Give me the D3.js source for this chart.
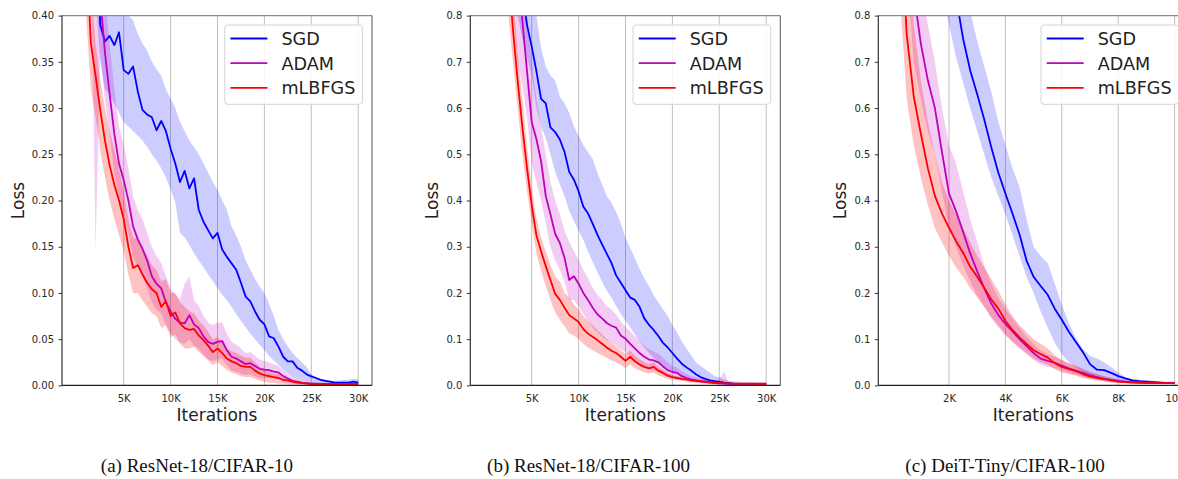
<!DOCTYPE html>
<html><head><meta charset="utf-8">
<script src="https://cdn.jsdelivr.net/npm/d3@7"></script>
<style>body{margin:0;background:#fff} svg{display:block}</style>
</head><body>
<svg id="chart" width="1178" height="479"></svg>
<script>
// ---------------- DATA ----------------
const itersAB = [0,500,1000,1500,2000,2500,3000,3500,4000,4500,
  5000,5500,6000,6500,7000,7500,8000,8500,9000,9500,
  10000,10500,11000,11500,12000,12500,13000,13500,14000,14500,
  15000,15500,16000,16500,17000,17500,18000,18500,19000,19500,
  20000,20500,21000,21500,22000,22500,23000,23500,24000,24500,
  25000,25500,26000,26500,27000,27500,28000,28500,29000,29500,30000];
const itersC = [0,250,500,750,1000,1250,1500,1750,
  2000,2250,2500,2750,3000,3250,3500,3750,
  4000,4250,4500,4750,5000,5250,5500,5750,
  6000,6250,6500,6750,7000,7250,7500,7750,
  8000,8250,8500,8750,9000,9250,9500,9750,10000];

const seriesNames = ["SGD", "ADAM", "mLBFGS"];

// (a) ResNet-18/CIFAR-10
const sgdA = [2.3,1.5,0.95,0.68,0.5,0.39,0.372,0.378,0.368,0.382,
  0.341,0.337,0.345,0.318,0.298,0.293,0.29,0.276,0.286,0.275,
  0.256,0.24,0.22,0.232,0.213,0.224,0.19,0.177,0.168,0.159,
  0.165,0.147,0.139,0.132,0.125,0.111,0.096,0.091,0.08,0.071,
  0.066,0.053,0.051,0.042,0.031,0.026,0.026,0.019,0.016,0.012,
  0.0097,0.008,0.006,0.005,0.004,0.003,0.003,0.003,0.003,0.004,0.003];
const sgdALo = [2.0,1.3,0.8,0.55,0.42,0.35,0.32,0.315,0.305,0.295,
  0.285,0.28,0.275,0.27,0.265,0.258,0.25,0.243,0.235,0.225,
  0.212,0.198,0.165,0.16,0.152,0.143,0.135,0.128,0.12,0.113,
  0.105,0.098,0.092,0.085,0.077,0.07,0.063,0.056,0.05,0.044,
  0.038,0.032,0.027,0.022,0.017,0.013,0.009,0.007,0.005,0.004,
  0.003,0.002,0.002,0.001,0.001,0.001,0.001,0.001,0.001,0.001,0.001];
const sgdAHi = [2.6,1.8,1.1,0.8,0.62,0.5,0.47,0.45,0.43,0.425,
  0.41,0.4,0.395,0.38,0.37,0.362,0.35,0.342,0.335,0.32,
  0.31,0.3,0.285,0.275,0.265,0.258,0.25,0.24,0.23,0.22,
  0.212,0.2,0.19,0.172,0.162,0.15,0.135,0.125,0.115,0.107,
  0.1,0.088,0.075,0.06,0.05,0.042,0.035,0.03,0.025,0.02,
  0.012,0.009,0.007,0.006,0.005,0.005,0.005,0.006,0.006,0.007,0.007];
const adamA = [2.0,1.4,0.9,0.65,0.5,0.42,0.36,0.315,0.272,0.24,
  0.222,0.2,0.172,0.158,0.148,0.135,0.118,0.11,0.105,0.09,
  0.08,0.072,0.068,0.067,0.076,0.066,0.062,0.053,0.047,0.045,
  0.047,0.048,0.038,0.031,0.029,0.026,0.023,0.024,0.021,0.018,
  0.017,0.0165,0.015,0.014,0.01,0.0075,0.005,0.004,0.003,0.0025,
  0.002,0.002,0.0015,0.0015,0.0015,0.0015,0.0015,0.0015,0.0015,0.0015,0.0015];
const adamALo = [1.6,1.1,0.7,0.5,0.145,0.36,0.31,0.27,0.23,0.2,
  0.185,0.165,0.14,0.128,0.118,0.105,0.09,0.082,0.078,0.065,
  0.057,0.05,0.046,0.045,0.05,0.043,0.04,0.033,0.028,0.026,
  0.028,0.029,0.022,0.016,0.015,0.013,0.011,0.012,0.01,0.008,
  0.008,0.008,0.007,0.007,0.004,0.003,0.002,0.001,0.001,0.001,
  0.001,0.001,0.001,0.001,0.001,0.001,0.001,0.001,0.001,0.001,0.001];
const adamAHi = [2.4,1.7,1.1,0.8,0.6,0.5,0.42,0.37,0.32,0.28,
  0.26,0.235,0.205,0.19,0.18,0.165,0.15,0.14,0.132,0.118,
  0.105,0.098,0.093,0.11,0.118,0.092,0.086,0.075,0.068,0.065,
  0.068,0.068,0.056,0.047,0.044,0.04,0.035,0.036,0.032,0.028,
  0.026,0.025,0.023,0.021,0.016,0.012,0.009,0.007,0.005,0.004,
  0.0035,0.003,0.003,0.003,0.003,0.003,0.003,0.003,0.003,0.003,0.003];
const lbfgsA = [1.5,0.9,0.48,0.37,0.335,0.298,0.265,0.238,0.217,0.2,
  0.18,0.15,0.127,0.13,0.12,0.111,0.104,0.1,0.085,0.091,
  0.075,0.079,0.067,0.062,0.06,0.061,0.054,0.049,0.043,0.036,
  0.04,0.035,0.029,0.026,0.024,0.021,0.02,0.02,0.016,0.013,
  0.011,0.01,0.009,0.008,0.006,0.0055,0.004,0.003,0.0025,0.002,
  0.0015,0.001,0.001,0.001,0.001,0.001,0.001,0.001,0.001,0.001,0.001];
const lbfgsALo = [1.2,0.7,0.4,0.32,0.29,0.255,0.225,0.2,0.18,0.163,
  0.145,0.12,0.1,0.1,0.092,0.085,0.078,0.075,0.062,0.065,
  0.052,0.055,0.045,0.04,0.04,0.042,0.036,0.032,0.027,0.022,
  0.025,0.021,0.017,0.014,0.012,0.01,0.009,0.009,0.007,0.005,
  0.004,0.003,0.003,0.002,0.002,0.001,0.001,0.001,0.001,0.001,
  0.0005,0.0005,0.0005,0.0005,0.0005,0.0005,0.0005,0.0005,0.0005,0.0005,0.0005];
const lbfgsAHi = [1.8,1.1,0.58,0.43,0.37,0.33,0.3,0.275,0.255,0.235,
  0.21,0.18,0.16,0.158,0.148,0.14,0.13,0.125,0.112,0.115,
  0.1,0.1,0.09,0.085,0.08,0.078,0.07,0.065,0.058,0.05,
  0.052,0.047,0.04,0.037,0.035,0.032,0.03,0.03,0.025,0.02,
  0.017,0.015,0.013,0.012,0.009,0.008,0.006,0.005,0.004,0.0035,
  0.003,0.002,0.002,0.002,0.002,0.002,0.002,0.002,0.002,0.002,0.002];

// (b) ResNet-18/CIFAR-100
const sgdB = [3.0,2.5,2.0,1.65,1.4,1.2,1.05,0.95,0.85,0.78,
  0.733,0.68,0.62,0.61,0.558,0.548,0.532,0.505,0.462,0.445,
  0.42,0.387,0.372,0.35,0.326,0.305,0.285,0.265,0.238,0.222,
  0.206,0.19,0.185,0.17,0.145,0.131,0.12,0.107,0.092,0.082,
  0.07,0.058,0.047,0.039,0.032,0.024,0.018,0.014,0.011,0.009,
  0.0075,0.006,0.005,0.004,0.0035,0.003,0.0025,0.0025,0.0025,0.0025,0.0025];
const sgdBLo = [2.6,2.1,1.7,1.35,1.15,0.98,0.88,0.8,0.75,0.71,
  0.67,0.6,0.56,0.535,0.5,0.462,0.435,0.41,0.378,0.355,
  0.335,0.315,0.29,0.267,0.245,0.225,0.205,0.19,0.172,0.155,
  0.14,0.126,0.11,0.095,0.082,0.07,0.06,0.05,0.042,0.036,
  0.03,0.025,0.02,0.015,0.011,0.009,0.007,0.006,0.005,0.004,
  0.003,0.002,0.002,0.001,0.001,0.001,0.001,0.001,0.001,0.001,0.001];
const sgdBHi = [3.4,2.9,2.4,2.0,1.7,1.45,1.3,1.15,1.0,0.95,
  0.88,0.8,0.73,0.69,0.67,0.66,0.625,0.61,0.59,0.56,
  0.54,0.52,0.505,0.49,0.46,0.435,0.41,0.395,0.375,0.35,
  0.32,0.298,0.275,0.252,0.232,0.215,0.195,0.18,0.165,0.15,
  0.13,0.115,0.095,0.08,0.065,0.05,0.042,0.035,0.028,0.02,
  0.018,0.012,0.01,0.009,0.008,0.007,0.007,0.007,0.006,0.006,0.006];
const adamB = [3.0,2.4,2.0,1.6,1.35,1.15,1.0,0.9,0.79,0.68,
  0.57,0.533,0.485,0.41,0.37,0.328,0.308,0.276,0.228,0.236,
  0.22,0.2,0.185,0.168,0.154,0.145,0.135,0.129,0.125,0.108,
  0.101,0.09,0.08,0.07,0.062,0.056,0.054,0.05,0.041,0.033,
  0.029,0.027,0.02,0.016,0.013,0.011,0.009,0.0075,0.006,0.005,
  0.0045,0.004,0.0035,0.003,0.003,0.0025,0.0025,0.002,0.002,0.002,0.002];
const adamBLo = [2.6,2.0,1.7,1.3,1.1,0.95,0.8,0.7,0.65,0.58,
  0.48,0.44,0.4,0.35,0.3,0.27,0.25,0.225,0.185,0.185,
  0.17,0.155,0.14,0.125,0.115,0.105,0.097,0.092,0.087,0.077,
  0.072,0.063,0.055,0.046,0.04,0.036,0.033,0.029,0.023,0.018,
  0.016,0.014,0.01,0.008,0.006,0.005,0.004,0.003,0.003,0.002,
  0.002,0.002,0.001,0.001,0.001,0.001,0.001,0.001,0.001,0.001,0.001];
const adamBHi = [3.4,2.8,2.3,1.9,1.6,1.35,1.2,1.05,0.9,0.8,
  0.7,0.62,0.56,0.5,0.44,0.4,0.37,0.335,0.31,0.29,
  0.272,0.25,0.232,0.212,0.196,0.185,0.172,0.164,0.153,0.138,
  0.127,0.117,0.106,0.096,0.086,0.079,0.073,0.069,0.06,0.05,
  0.042,0.038,0.03,0.025,0.02,0.017,0.014,0.012,0.01,0.01,
  0.012,0.03,0.006,0.005,0.005,0.005,0.004,0.004,0.004,0.004,0.004];
const lbfgsB = [2.5,2.0,1.6,1.3,1.05,0.9,0.77,0.66,0.56,0.47,
  0.39,0.325,0.29,0.258,0.228,0.198,0.185,0.168,0.152,0.145,
  0.137,0.122,0.112,0.105,0.098,0.09,0.082,0.075,0.07,0.062,
  0.053,0.062,0.052,0.045,0.04,0.037,0.04,0.032,0.027,0.021,
  0.018,0.016,0.014,0.013,0.011,0.01,0.009,0.008,0.007,0.006,
  0.005,0.005,0.0045,0.004,0.004,0.004,0.004,0.0036,0.0036,0.0036,0.0036];
const lbfgsBLo = [2.1,1.7,1.35,1.1,0.9,0.8,0.7,0.6,0.5,0.42,
  0.35,0.285,0.248,0.215,0.185,0.158,0.142,0.128,0.113,0.108,
  0.1,0.09,0.082,0.076,0.07,0.065,0.06,0.054,0.05,0.044,
  0.037,0.045,0.037,0.032,0.028,0.026,0.028,0.022,0.018,0.014,
  0.012,0.011,0.01,0.009,0.008,0.007,0.006,0.005,0.004,0.0035,
  0.003,0.002,0.002,0.002,0.002,0.002,0.002,0.002,0.002,0.002,0.002];
const lbfgsBHi = [2.9,2.4,1.9,1.55,1.25,1.0,0.85,0.72,0.62,0.52,
  0.43,0.36,0.32,0.29,0.26,0.235,0.225,0.2,0.19,0.175,
  0.165,0.15,0.14,0.13,0.12,0.11,0.1,0.092,0.085,0.076,
  0.068,0.075,0.064,0.056,0.05,0.046,0.05,0.04,0.034,0.027,
  0.023,0.02,0.018,0.016,0.014,0.013,0.012,0.011,0.01,0.009,
  0.008,0.008,0.007,0.006,0.006,0.006,0.006,0.006,0.006,0.006,0.006];

// (c) DeiT-Tiny/CIFAR-100
const sgdC = [3.5,2.8,2.3,1.9,1.6,1.35,1.15,1.0,
  0.9,0.84,0.75,0.682,0.63,0.575,0.515,0.46,
  0.415,0.372,0.327,0.27,0.235,0.215,0.196,0.166,
  0.142,0.116,0.094,0.072,0.046,0.034,0.033,0.027,
  0.02,0.015,0.011,0.009,0.008,0.007,0.006,0.005,0.005];
const sgdCLo = [2.8,2.2,1.8,1.5,1.25,1.05,0.92,0.85,
  0.78,0.71,0.655,0.6,0.55,0.5,0.45,0.41,
  0.37,0.325,0.28,0.235,0.2,0.16,0.125,0.092,
  0.068,0.05,0.04,0.028,0.02,0.016,0.012,0.009,
  0.007,0.006,0.005,0.004,0.004,0.003,0.003,0.003,0.003];
const sgdCHi = [4.5,3.5,2.9,2.4,2.0,1.7,1.45,1.25,
  1.1,0.98,0.88,0.81,0.745,0.69,0.635,0.57,
  0.52,0.47,0.43,0.36,0.3,0.28,0.265,0.22,
  0.175,0.135,0.102,0.078,0.064,0.058,0.05,0.04,
  0.028,0.018,0.014,0.012,0.011,0.01,0.009,0.008,0.008];
const adamC = [2.5,1.6,1.1,0.85,0.74,0.66,0.6,0.505,
  0.415,0.377,0.332,0.286,0.247,0.21,0.177,0.152,
  0.133,0.117,0.1,0.085,0.07,0.058,0.053,0.049,
  0.043,0.037,0.032,0.027,0.022,0.018,0.014,0.012,
  0.01,0.008,0.0075,0.007,0.006,0.006,0.005,0.005,0.005];
const adamCLo = [2.0,1.3,0.9,0.7,0.62,0.55,0.5,0.42,
  0.34,0.3,0.26,0.225,0.195,0.17,0.145,0.125,
  0.108,0.094,0.08,0.068,0.055,0.045,0.04,0.037,
  0.032,0.027,0.023,0.019,0.015,0.012,0.009,0.008,
  0.006,0.005,0.004,0.004,0.003,0.003,0.003,0.003,0.003];
const adamCHi = [3.0,2.0,1.4,1.05,0.88,0.78,0.7,0.6,
  0.52,0.48,0.42,0.36,0.31,0.26,0.22,0.19,
  0.165,0.145,0.125,0.105,0.09,0.075,0.068,0.062,
  0.055,0.048,0.042,0.036,0.03,0.025,0.02,0.017,
  0.014,0.012,0.011,0.01,0.009,0.009,0.008,0.008,0.008];
const lbfgsC = [1.6,1.05,0.76,0.625,0.545,0.47,0.41,0.372,
  0.341,0.312,0.287,0.257,0.235,0.211,0.186,0.166,
  0.14,0.12,0.104,0.09,0.076,0.068,0.06,0.048,
  0.04,0.035,0.031,0.024,0.019,0.016,0.0135,0.011,
  0.008,0.007,0.006,0.0055,0.005,0.005,0.005,0.005,0.005];
const lbfgsCLo = [1.3,0.85,0.62,0.52,0.45,0.39,0.34,0.31,
  0.28,0.255,0.235,0.21,0.19,0.17,0.148,0.13,
  0.11,0.095,0.082,0.07,0.058,0.05,0.045,0.035,
  0.028,0.024,0.021,0.016,0.012,0.01,0.008,0.006,
  0.005,0.004,0.004,0.003,0.003,0.003,0.003,0.003,0.003];
const lbfgsCHi = [2.0,1.3,0.95,0.78,0.66,0.57,0.5,0.44,
  0.4,0.37,0.34,0.31,0.28,0.255,0.23,0.205,
  0.175,0.15,0.13,0.115,0.1,0.09,0.08,0.065,
  0.055,0.048,0.043,0.035,0.028,0.024,0.02,0.016,
  0.012,0.01,0.009,0.008,0.007,0.007,0.007,0.007,0.007];

// tick values and labels
const xTicksAB = [5000,10000,15000,20000,25000,30000];
const xLabelsAB = ["5K","10K","15K","20K","25K","30K"];
const xTicksC = [2000,4000,6000,8000,10000];
const xLabelsC = ["2K","4K","6K","8K","10K"];
const yTicksA = [0,0.05,0.10,0.15,0.20,0.25,0.30,0.35,0.40];
const yLabelsA = ["0.00","0.05","0.10","0.15","0.20","0.25","0.30","0.35","0.40"];
const yTicksBC = [0,0.1,0.2,0.3,0.4,0.5,0.6,0.7,0.8];
const yLabelsBC = ["0.0","0.1","0.2","0.3","0.4","0.5","0.6","0.7","0.8"];
const captions = ["(a) ResNet-18/CIFAR-10", "(b) ResNet-18/CIFAR-100", "(c) DeiT-Tiny/CIFAR-100"];

// ---------------- LAYOUT ----------------
const colors = ["#0000ff", "#bf00bf", "#ff0000"];
const bandOpacity = [0.2, 0.2, 0.24];
const TOP = 15.6, BOTTOM = 385.4, W = 310;
const FONT = "DejaVu Sans, sans-serif";

const panels = [
  {left: 62, xDom: [-1578, 31471], yMax: 0.4, yTicks: yTicksA, yLabels: yLabelsA,
   xTicks: xTicksAB, xLabels: xLabelsAB, iters: itersAB, ylabOff: 38, capX: 197,
   series: [[sgdA, sgdALo, sgdAHi], [adamA, adamALo, adamAHi], [lbfgsA, lbfgsALo, lbfgsAHi]]},
  {left: 470.3, xDom: [-1546, 31503], yMax: 0.8, yTicks: yTicksBC, yLabels: yLabelsBC,
   xTicks: xTicksAB, xLabels: xLabelsAB, iters: itersAB, ylabOff: 32.3, capX: 588.5,
   series: [[sgdB, sgdBLo, sgdBHi], [adamB, adamBLo, adamBHi], [lbfgsB, lbfgsBLo, lbfgsBHi]]},
  {left: 878.3, xDom: [-507, 10486], yMax: 0.8, yTicks: yTicksBC, yLabels: yLabelsBC,
   xTicks: xTicksC, xLabels: xLabelsC, iters: itersC, ylabOff: 32.3, capX: 1005,
   series: [[sgdC, sgdCLo, sgdCHi], [adamC, adamCLo, adamCHi], [lbfgsC, lbfgsCLo, lbfgsCHi]]}
];

const svg = d3.select("#chart");
svg.append("rect").attr("width", 1178).attr("height", 479).attr("fill", "#fff");

panels.forEach((p, pi) => {
  const x = d3.scaleLinear().domain(p.xDom).range([p.left, p.left + W]);
  const y = d3.scaleLinear().domain([0, p.yMax]).range([BOTTOM, TOP]);
  const g = svg.append("g");

  const clipId = "clip" + pi;
  svg.append("clipPath").attr("id", clipId)
    .append("rect").attr("x", p.left).attr("y", TOP).attr("width", W).attr("height", BOTTOM - TOP);

  // vertical grid
  g.selectAll(".grid").data(p.xTicks).enter().append("line")
    .attr("x1", d => x(d)).attr("x2", d => x(d))
    .attr("y1", TOP).attr("y2", BOTTOM)
    .attr("stroke", "#b0b0b0").attr("stroke-width", 0.8);

  const plot = g.append("g").attr("clip-path", `url(#${clipId})`);
  const idx = d3.range(p.iters.length);

  // bands
  p.series.forEach((s, si) => {
    const area = d3.area()
      .x(i => x(p.iters[i]))
      .y0(i => y(s[1][i]))
      .y1(i => y(s[2][i]));
    plot.append("path").attr("d", area(idx))
      .attr("fill", colors[si]).attr("fill-opacity", bandOpacity[si]).attr("stroke", "none");
  });
  // mean lines
  p.series.forEach((s, si) => {
    const line = d3.line().x(i => x(p.iters[i])).y(i => y(s[0][i]));
    plot.append("path").attr("d", line(idx))
      .attr("fill", "none").attr("stroke", colors[si])
      .attr("stroke-width", 1.8).attr("stroke-linejoin", "round");
  });

  // axes
  const yAxis = d3.axisLeft(y).tickValues(p.yTicks)
    .tickFormat((d, i) => p.yLabels[i]).tickSize(3.5).tickPadding(4.5);
  const ya = g.append("g").attr("transform", `translate(${p.left},0)`).call(yAxis);
  ya.select(".domain").remove();
  ya.selectAll("line").attr("stroke", "#222").attr("stroke-width", 0.9);
  ya.selectAll("text").attr("font-family", FONT).attr("font-size", 10).attr("fill", "#262626");

  const xAxis = d3.axisBottom(x).tickValues(p.xTicks)
    .tickFormat((d, i) => p.xLabels[i]).tickSize(0).tickPadding(9.5);
  const xa = g.append("g").attr("transform", `translate(0,${BOTTOM})`).call(xAxis);
  xa.select(".domain").remove();
  xa.selectAll("text").attr("font-family", FONT).attr("font-size", 10).attr("fill", "#262626");

  // spines
  g.append("line").attr("x1", p.left).attr("x2", p.left + W).attr("y1", TOP).attr("y2", TOP)
    .attr("stroke", "#8a8a8a").attr("stroke-width", 1.2);
  g.append("line").attr("x1", p.left + W).attr("x2", p.left + W).attr("y1", TOP).attr("y2", BOTTOM)
    .attr("stroke", "#555").attr("stroke-width", 1);
  g.append("line").attr("x1", p.left).attr("x2", p.left).attr("y1", TOP).attr("y2", BOTTOM)
    .attr("stroke", "#222").attr("stroke-width", 1.1);
  g.append("line").attr("x1", p.left).attr("x2", p.left + W).attr("y1", BOTTOM).attr("y2", BOTTOM)
    .attr("stroke", "#222").attr("stroke-width", 1.1);

  // axis labels
  g.append("text").attr("x", p.left + W / 2).attr("y", 420.5)
    .attr("text-anchor", "middle").attr("font-family", FONT).attr("font-size", 17)
    .attr("fill", "#222").text("Iterations");
  g.append("text")
    .attr("transform", `translate(${p.left - p.ylabOff},${(TOP + BOTTOM) / 2}) rotate(-90)`)
    .attr("text-anchor", "middle").attr("font-family", FONT).attr("font-size", 17)
    .attr("fill", "#222").text("Loss");

  // legend
  const lx = p.left + W - 147.3, ly = 25;
  const leg = g.append("g");
  leg.append("rect").attr("x", lx).attr("y", ly).attr("width", 137.7).attr("height", 79.3)
    .attr("rx", 3).attr("fill", "#fff").attr("fill-opacity", 0.85)
    .attr("stroke", "#d4d4d4").attr("stroke-width", 1);
  seriesNames.forEach((name, si) => {
    const by = 45 + si * 24.7;
    leg.append("line").attr("x1", lx + 5.7).attr("x2", lx + 42.7)
      .attr("y1", by - 6.5).attr("y2", by - 6.5)
      .attr("stroke", colors[si]).attr("stroke-width", 1.8);
    leg.append("text").attr("x", lx + 56.7).attr("y", by)
      .attr("font-family", FONT).attr("font-size", 17.6).attr("fill", "#222").text(name);
  });

  // caption
  svg.append("text").attr("x", p.capX).attr("y", 472)
    .attr("text-anchor", "middle").attr("font-family", "Liberation Serif, serif")
    .attr("font-size", 19).attr("fill", "#111").text(captions[pi]);
});
</script>
</body></html>
